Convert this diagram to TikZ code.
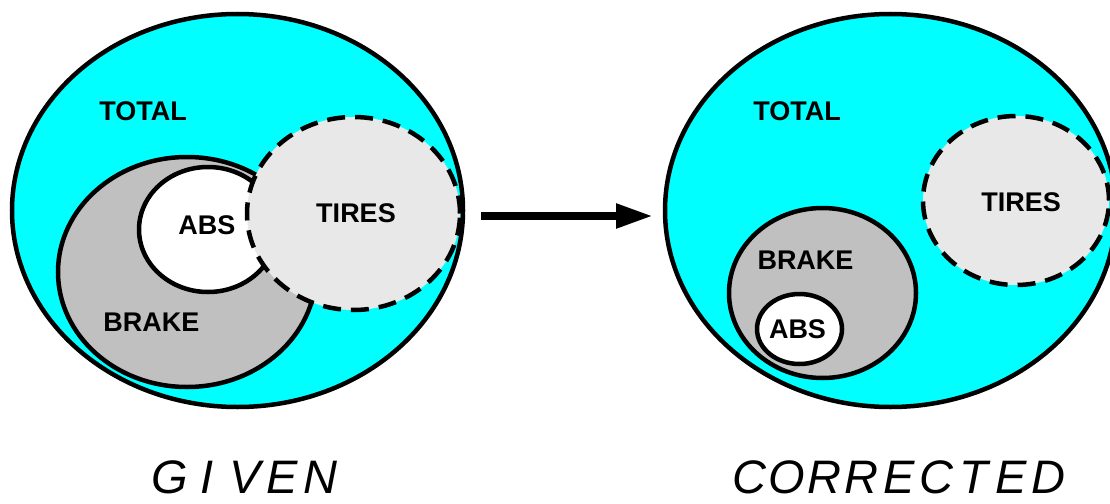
\documentclass[tikz,border=0pt]{standalone}
\usepackage{fontspec}
\setmainfont{Liberation Sans}
\usetikzlibrary{shapes.geometric,arrows.meta}
\definecolor{totalcyan}{HTML}{00FFFF}
\definecolor{brakegray}{HTML}{C0C0C0}
\definecolor{tiregray}{HTML}{E8E8E8}
% fixed-pitch cell for the caption letters
\newcommand{\capcell}[1]{\makebox[37.5pt]{#1}}

\begin{document}
\begin{tikzpicture}[x=1pt,y=-1pt,
  set/.style={ellipse, draw=black, line width=4.5pt, inner sep=0pt, outer sep=0pt},
  tireset/.style={set, dash pattern=on 18pt off 10pt},
  lbl/.style={font=\bfseries\fontsize{27}{27}\selectfont, inner sep=0pt},
  caption/.style={font=\itshape\fontsize{47}{47}\selectfont, inner sep=0pt},
  bigarrow/.style={line width=8pt, -{Triangle[length=37pt,width=23pt]}}]

\useasboundingbox (0,0) rectangle (1110,503);
\clip (0,0) rectangle (1110,503);

% ---- before: overlapping sets ----
\node[set, fill=totalcyan, minimum width=451pt, minimum height=393pt] (totalL) at (237.5,210.5) {};
\node[set, fill=brakegray, minimum width=258pt, minimum height=230pt] (brakeL) at (187,272) {};
\node[set, fill=white, minimum width=138pt, minimum height=125pt] (absL) at (208,229.5) {};
\node[tireset, fill=tiregray, minimum width=213pt, minimum height=193pt] (tiresL) at (353.5,213.5) {};

\node[lbl] (totalLtxt) at (143,111) {TOTAL};
\node[lbl] (absLtxt) at (207,225.5) {ABS};
\node[lbl] (brakeLtxt) at (151.5,322.5) {BRAKE};
\node[lbl] (tiresLtxt) at (356,213) {TIRES};

% ---- after: nested and disjoint sets ----
\node[set, fill=totalcyan, minimum width=451pt, minimum height=393pt] (totalR) at (890.5,210.5) {};
\node[set, fill=brakegray, minimum width=187pt, minimum height=170pt] (brakeR) at (822.5,293) {};
\node[set, fill=white, minimum width=85pt, minimum height=70pt] (absR) at (799.5,329) {};
\node[tireset, fill=tiregray, minimum width=186pt, minimum height=169pt] (tiresR) at (1016,200.5) {};

\node[lbl] (totalRtxt) at (797,111) {TOTAL};
\node[lbl] (tiresRtxt) at (1021,202.5) {TIRES};
\node[lbl] (brakeRtxt) at (805.5,260) {BRAKE};
\node[lbl] (absRtxt) at (797.5,329) {ABS};

% ---- transition arrow ----
\draw[bigarrow, shorten <=18pt, shorten >=12pt]
  ([yshift=-5.5pt]totalL.east) -- ([yshift=-5.5pt]totalR.west);

% ---- captions ----
\node[caption] (given) at (245,477.5)
  {\capcell{G}\capcell{I}\capcell{V}\capcell{E}\capcell{N}};
\node[caption] (corrected) at (899,477.5)
  {\capcell{C}\capcell{O}\capcell{R}\capcell{R}\capcell{E}\capcell{C}\capcell{T}\capcell{E}\capcell{D}};
\end{tikzpicture}
\end{document}
